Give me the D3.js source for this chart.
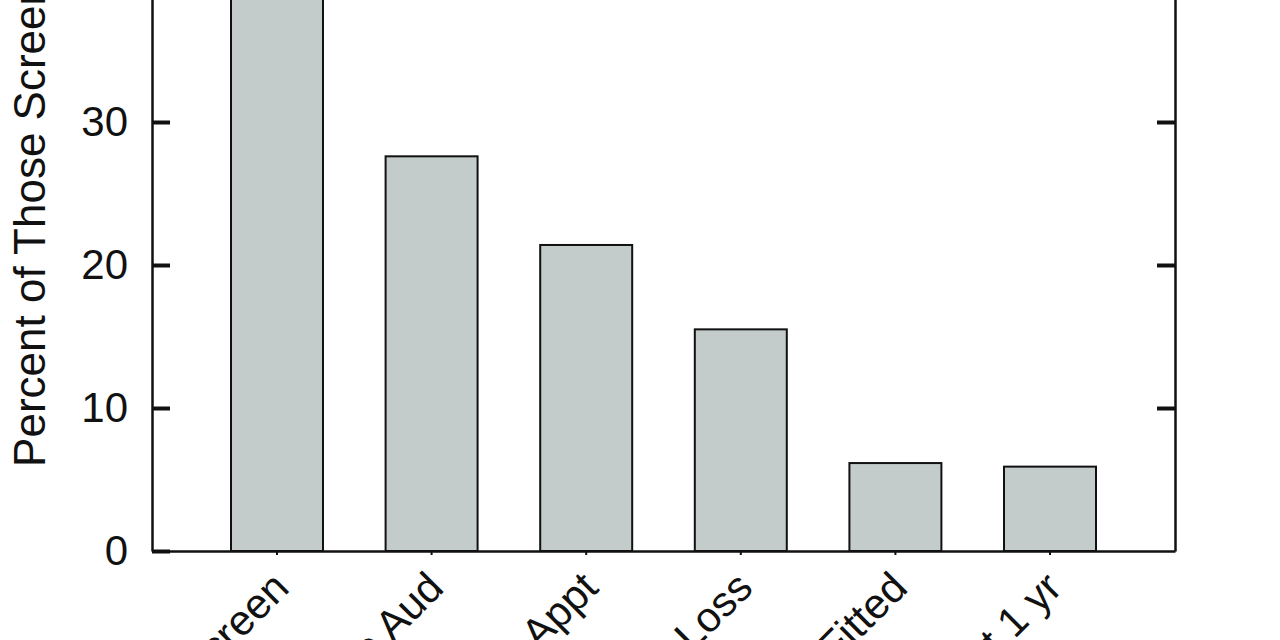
<!DOCTYPE html>
<html><head><meta charset="utf-8">
<script src="https://cdn.jsdelivr.net/npm/d3@7"></script>
<style>body{margin:0;background:#fff;} svg{display:block;}</style>
</head><body>
<svg id="chart" width="1280" height="640"></svg>
<script>
const categories = ["Failed Screen", "Referred to Aud", "Kept Appt", "Hearing Loss", "HA Fitted", "Using HA at 1 yr"];
const values = [44, 27.6, 21.4, 15.5, 6.15, 5.9];
const yTicks = [0, 10, 20, 30, 40, 50];
const yTitle = "Percent of Those Screened";

const svg = d3.select("#chart");
const plotLeft = 152, plotRight = 1175, plotBottom = 551, plotTop = -164;
const font = "'Liberation Sans', Arial, sans-serif";

const x = d3.scaleBand().domain(categories).range([plotLeft, plotRight]).paddingInner(0.405).paddingOuter(0.511);
const y = d3.scaleLinear().domain([0, 50]).range([plotBottom, plotTop]);

// bars
svg.append("g").selectAll("rect").data(values).join("rect")
  .attr("x", (d, i) => x(categories[i]))
  .attr("y", d => y(d))
  .attr("width", x.bandwidth())
  .attr("height", d => y(0) - y(d))
  .attr("fill", "#c3cccb")
  .attr("stroke", "#111")
  .attr("stroke-width", 2);

// left axis
const gl = svg.append("g").attr("transform", `translate(${plotLeft},0)`)
  .call(d3.axisLeft(y).tickValues(yTicks).tickSizeInner(-18).tickSizeOuter(0).tickPadding(24));
gl.select(".domain").attr("stroke", "#111").attr("stroke-width", 2.5);
gl.selectAll(".tick line").attr("stroke", "#111").attr("stroke-width", 4);
gl.selectAll(".tick text").attr("font-family", font).attr("font-size", 42).attr("fill", "#111");

// right axis
const gr = svg.append("g").attr("transform", `translate(${plotRight},0)`)
  .call(d3.axisRight(y).tickValues(yTicks.filter(v => v > 0)).tickSizeInner(-18).tickSizeOuter(0).tickFormat(""));
gr.select(".domain").attr("stroke", "#111").attr("stroke-width", 2.5);
gr.selectAll(".tick line").attr("stroke", "#111").attr("stroke-width", 4);

// bottom axis
const gb = svg.append("g").attr("transform", `translate(0,${plotBottom})`)
  .call(d3.axisBottom(x).tickSizeInner(4).tickSizeOuter(0).tickFormat(""));
gb.select(".domain").attr("stroke", "#111").attr("stroke-width", 2.5);
gb.selectAll(".tick line").attr("stroke", "#111").attr("stroke-width", 2);

// category labels
svg.append("g").selectAll("text").data(categories).join("text")
  .attr("transform", d => `translate(${x(d) + x.bandwidth() / 2 + 14},${plotBottom + 39}) rotate(-45)`)
  .attr("text-anchor", "end")
  .attr("font-family", font).attr("font-size", 42).attr("fill", "#111")
  .text(d => d);

// y title
svg.append("text")
  .attr("transform", `translate(45,${(plotBottom + plotTop) / 2 + 6}) rotate(-90)`)
  .attr("text-anchor", "middle")
  .attr("font-family", font).attr("font-size", 44).attr("fill", "#111")
  .text(yTitle);
</script>
</body></html>
